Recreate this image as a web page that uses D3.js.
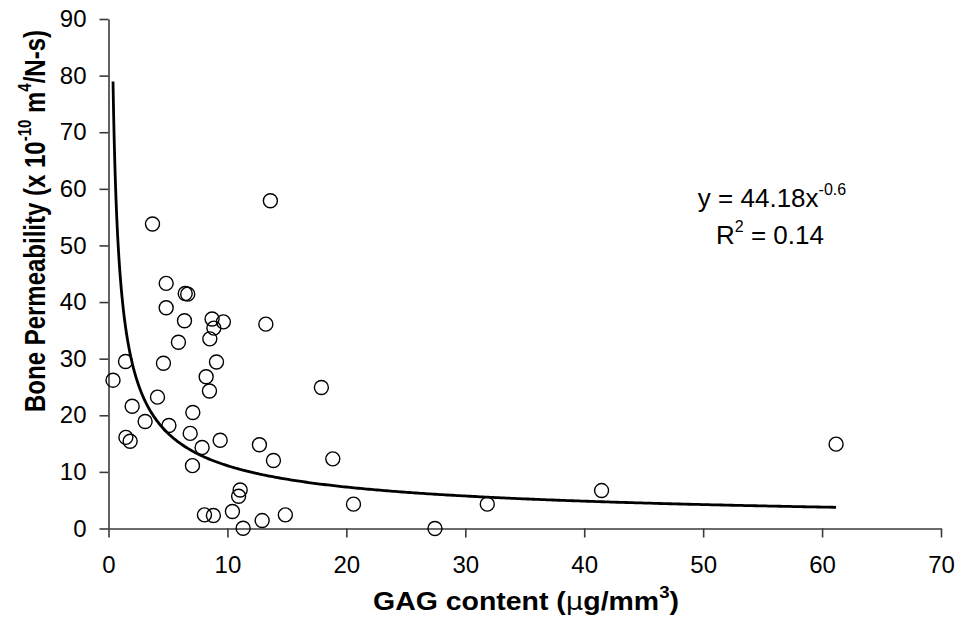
<!DOCTYPE html>
<html>
<head>
<meta charset="utf-8">
<script src="https://cdn.jsdelivr.net/npm/d3@7"></script>
<style>
  html, body { margin: 0; padding: 0; background: #fff; }
  svg { display: block; font-family: "Liberation Sans", Arial, sans-serif; }
</style>
</head>
<body>
<svg id="chart" width="959" height="639"></svg>
<script>
// GAG content (µg/mm³) and bone permeability (x 10^-10 m^4/N-s) per specimen
const gagContent = [
  0.38, 1.43, 1.46, 1.82, 1.99, 3.08, 3.70, 4.12, 4.62, 4.85,
  4.85, 5.08, 5.88, 6.45, 6.66, 6.39, 6.87, 7.09, 7.06, 7.87,
  8.21, 8.07, 8.49, 8.52, 8.71, 8.86, 8.82, 9.08, 9.39, 9.66,
  10.42, 10.94, 11.07, 11.32, 12.69, 12.92, 13.23, 13.61, 13.87, 14.87,
  17.90, 18.86, 20.60, 27.45, 31.85, 41.46, 61.18
];
const permeability = [
  26.2, 29.5, 16.1, 15.4, 21.6, 18.9, 53.8, 23.2, 29.2, 43.3,
  39.0, 18.2, 32.9, 41.5, 41.4, 36.7, 16.8, 20.5, 11.1, 14.3,
  26.8, 2.4, 24.3, 33.5, 37.0, 35.4, 2.3, 29.4, 15.6, 36.5,
  3.0, 5.7, 6.8, 0.05, 14.8, 1.4, 36.1, 57.9, 12.0, 2.4,
  24.9, 12.3, 4.3, 0.0, 4.3, 6.7, 14.9
];

// Power-law fit y = a·x^b
const fitCoef = 44.18;
const fitExp = -0.6;
const fitR2 = 0.14;

const xTicks = [0, 10, 20, 30, 40, 50, 60, 70];
const yTicks = [0, 10, 20, 30, 40, 50, 60, 70, 80, 90];

const svg = d3.select("#chart");
const axisColor = "#3a3a3a";

const x = d3.scaleLinear().domain([0, 70]).range([108.5, 941]);
const y = d3.scaleLinear().domain([0, 90]).range([528.5, 19]);

// X axis
const xAxis = svg.append("g")
  .attr("transform", `translate(0,${y(0)})`)
  .call(d3.axisBottom(x).tickValues(xTicks).tickSize(9).tickSizeOuter(0).tickPadding(18));
xAxis.select(".domain").attr("stroke", axisColor).attr("stroke-width", 1.6);
xAxis.selectAll(".tick line").attr("stroke", axisColor).attr("stroke-width", 1.6);
xAxis.selectAll(".tick text")
  .attr("font-size", 24).attr("fill", "#000")
  .attr("font-family", "'Liberation Sans', Arial, sans-serif");

// Y axis
const yAxis = svg.append("g")
  .attr("transform", `translate(${x(0)},0)`)
  .call(d3.axisLeft(y).tickValues(yTicks).tickSize(9).tickSizeOuter(0).tickPadding(13));
yAxis.select(".domain").attr("stroke", axisColor).attr("stroke-width", 1.6);
yAxis.selectAll(".tick line").attr("stroke", axisColor).attr("stroke-width", 1.6);
yAxis.selectAll(".tick text")
  .attr("font-size", 24).attr("fill", "#000")
  .attr("font-family", "'Liberation Sans', Arial, sans-serif");

// Trend line over the measured range
const xMin = d3.min(gagContent), xMax = d3.max(gagContent);
const fitPts = d3.range(0, 401).map(i => {
  const t = i / 400;
  // denser sampling near the steep left end
  const xv = xMin + (xMax - xMin) * t * t;
  return [xv, fitCoef * Math.pow(xv, fitExp)];
});
svg.append("path")
  .datum(fitPts)
  .attr("fill", "none")
  .attr("stroke", "#000")
  .attr("stroke-width", 2.8)
  .attr("d", d3.line().x(d => x(d[0])).y(d => y(d[1])));

// Data points
svg.append("g")
  .selectAll("circle")
  .data(gagContent.map((g, i) => [g, permeability[i]]))
  .join("circle")
  .attr("cx", d => x(d[0]))
  .attr("cy", d => y(d[1]))
  .attr("r", 7)
  .attr("fill", "none")
  .attr("stroke", "#000")
  .attr("stroke-width", 1.4);

// Fit equation
const eq = svg.append("text")
  .attr("x", 772).attr("y", 207)
  .attr("text-anchor", "middle")
  .attr("font-size", 26).attr("fill", "#000");
eq.append("tspan").text(`y = ${fitCoef}x`);
eq.append("tspan").attr("dy", -12).attr("font-size", 16).text(fitExp);

const r2 = svg.append("text")
  .attr("x", 770).attr("y", 244)
  .attr("text-anchor", "middle")
  .attr("font-size", 26).attr("fill", "#000");
r2.append("tspan").text("R");
r2.append("tspan").attr("dy", -12).attr("font-size", 16).text("2");
r2.append("tspan").attr("dy", 12).text(` = ${fitR2}`);

// Axis titles
svg.append("text")
  .attr("x", 526).attr("y", 610)
  .attr("text-anchor", "middle")
  .attr("font-size", 26).attr("font-weight", "bold").attr("fill", "#000")
  .attr("textLength", 306).attr("lengthAdjust", "spacingAndGlyphs")
  .call(t => {
    t.append("tspan").text("GAG content (");
    t.append("tspan").attr("font-weight", "normal").attr("font-family", "'DejaVu Sans', sans-serif").attr("font-size", 25).text("µ");
    t.append("tspan").text("g/mm");
    t.append("tspan").attr("dy", -12).attr("font-size", 17).text("3");
    t.append("tspan").attr("dy", 12).text(")");
  });

svg.append("text")
  .attr("transform", "translate(45,221) scale(1.25,1) rotate(-90)")
  .attr("text-anchor", "middle")
  .attr("font-size", 24).attr("font-weight", "bold").attr("fill", "#000")
  .call(t => {
    t.append("tspan").text("Bone Permeability (x 10");
    t.append("tspan").attr("dy", -11).attr("font-size", 15).text("-10");
    t.append("tspan").attr("dy", 11).text(" m");
    t.append("tspan").attr("dy", -11).attr("font-size", 15).text("4");
    t.append("tspan").attr("dy", 11).text("/N-s)");
  });
</script>
</body>
</html>
